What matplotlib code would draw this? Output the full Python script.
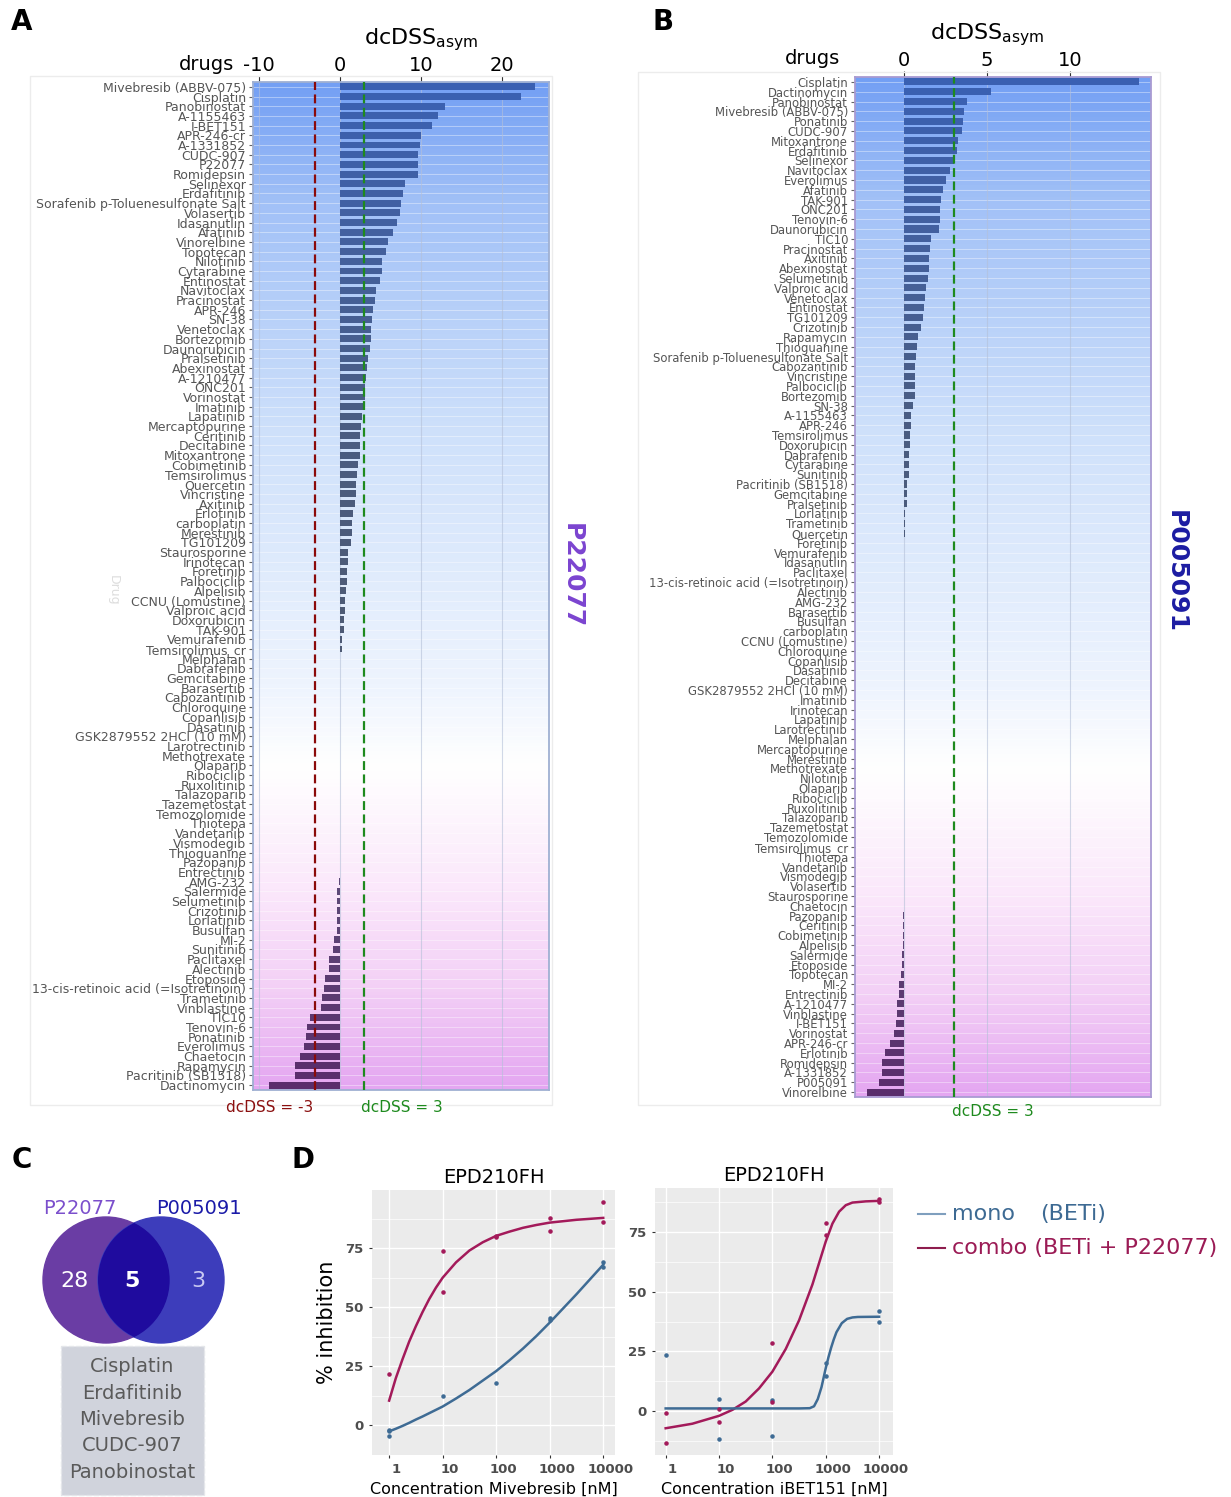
import numpy as np
import matplotlib
matplotlib.use("Agg")
import matplotlib.pyplot as plt
from matplotlib.colors import LinearSegmentedColormap
from matplotlib.patches import Circle, Rectangle
from matplotlib.lines import Line2D
from matplotlib.transforms import ScaledTranslation

# Panel A: P22077, dcDSS_asym per drug (top to bottom)
drugs_a = ["Mivebresib (ABBV-075)", "Cisplatin", "Panobinostat", "A-1155463", "I-BET151",
           "APR-246-cr", "A-1331852", "CUDC-907", "P22077", "Romidepsin", "Selinexor",
           "Erdafitinib", "Sorafenib p-Toluenesulfonate Salt", "Volasertib", "Idasanutlin",
           "Afatinib", "Vinorelbine", "Topotecan", "Nilotinib", "Cytarabine", "Entinostat",
           "Navitoclax", "Pracinostat", "APR-246", "SN-38", "Venetoclax", "Bortezomib",
           "Daunorubicin", "Pralsetinib", "Abexinostat", "A-1210477", "ONC201", "Vorinostat",
           "Imatinib", "Lapatinib", "Mercaptopurine", "Ceritinib", "Decitabine", "Mitoxantrone",
           "Cobimetinib", "Temsirolimus", "Quercetin", "Vincristine", "Axitinib", "Erlotinib",
           "carboplatin", "Merestinib", "TG101209", "Staurosporine", "Irinotecan", "Foretinib",
           "Palbociclib", "Alpelisib", "CCNU (Lomustine)", "Valproic acid", "Doxorubicin",
           "TAK-901", "Vemurafenib", "Temsirolimus_cr", "Melphalan", "Dabrafenib", "Gemcitabine",
           "Barasertib", "Cabozantinib", "Chloroquine", "Copanlisib", "Dasatinib",
           "GSK2879552 2HCl (10 mM)", "Larotrectinib", "Methotrexate", "Olaparib", "Ribociclib",
           "Ruxolitinib", "Talazoparib", "Tazemetostat", "Temozolomide", "Thiotepa", "Vandetanib",
           "Vismodegib", "Thioguanine", "Pazopanib", "Entrectinib", "AMG-232", "Salermide",
           "Selumetinib", "Crizotinib", "Lorlatinib", "Busulfan", "MI-2", "Sunitinib", "Paclitaxel",
           "Alectinib", "Etoposide", "13-cis-retinoic acid (=Isotretinoin)", "Trametinib",
           "Vinblastine", "TIC10", "Tenovin-6", "Ponatinib", "Everolimus", "Chaetocin", "Rapamycin",
           "Pacritinib (SB1518)", "Dactinomycin"]
vals_a = [24.1, 22.3, 13.0, 12.1, 11.4, 10.0, 9.9, 9.7, 9.6, 9.6, 8.0, 7.8, 7.6, 7.4, 7.1,
          6.6, 5.9, 5.7, 5.2, 5.2, 4.9, 4.5, 4.3, 4.1, 4.0, 3.8, 3.8, 3.7, 3.5, 3.4, 3.2, 3.1, 3.1,
          2.85, 2.7, 2.65, 2.55, 2.5, 2.45, 2.3, 2.1, 2.0, 1.97, 1.93, 1.68, 1.5, 1.47, 1.38,
          1.05, 1.05, 0.88, 0.84, 0.8, 0.67, 0.63, 0.55, 0.46, 0.25, 0.25, 0.08, 0, 0,
          0, 0, 0, 0, 0, 0, 0, 0, 0, 0, 0, 0, 0, 0, 0, 0,
          0, 0, 0, -0.03, -0.06, -0.3, -0.3, -0.3, -0.3, -0.3, -0.67, -0.84, -1.3,
          -1.34, -1.85, -2.0, -2.2, -2.26, -3.65, -4.07, -4.15, -4.44, -4.9, -5.5, -5.5, -8.7]

# Panel B: P005091
drugs_b = ["Cisplatin", "Dactinomycin", "Panobinostat", "Mivebresib (ABBV-075)", "Ponatinib",
           "CUDC-907", "Mitoxantrone", "Erdafitinib", "Selinexor", "Navitoclax", "Everolimus",
           "Afatinib", "TAK-901", "ONC201", "Tenovin-6", "Daunorubicin", "TIC10", "Pracinostat",
           "Axitinib", "Abexinostat", "Selumetinib", "Valproic acid", "Venetoclax", "Entinostat",
           "TG101209", "Crizotinib", "Rapamycin", "Thioguanine", "Sorafenib p-Toluenesulfonate Salt",
           "Cabozantinib", "Vincristine", "Palbociclib", "Bortezomib", "SN-38", "A-1155463",
           "APR-246", "Temsirolimus", "Doxorubicin", "Dabrafenib", "Cytarabine", "Sunitinib",
           "Pacritinib (SB1518)", "Gemcitabine", "Pralsetinib", "Lorlatinib", "Trametinib",
           "Quercetin", "Foretinib", "Vemurafenib", "Idasanutlin", "Paclitaxel",
           "13-cis-retinoic acid (=Isotretinoin)", "Alectinib", "AMG-232", "Barasertib", "Busulfan",
           "carboplatin", "CCNU (Lomustine)", "Chloroquine", "Copanlisib", "Dasatinib", "Decitabine",
           "GSK2879552 2HCl (10 mM)", "Imatinib", "Irinotecan", "Lapatinib", "Larotrectinib",
           "Melphalan", "Mercaptopurine", "Merestinib", "Methotrexate", "Nilotinib", "Olaparib",
           "Ribociclib", "Ruxolitinib", "Talazoparib", "Tazemetostat", "Temozolomide",
           "Temsirolimus_cr", "Thiotepa", "Vandetanib", "Vismodegib", "Volasertib", "Staurosporine",
           "Chaetocin", "Pazopanib", "Ceritinib", "Cobimetinib", "Alpelisib", "Salermide", "Etoposide",
           "Topotecan", "MI-2", "Entrectinib", "A-1210477", "Vinblastine", "I-BET151", "Vorinostat",
           "APR-246-cr", "Erlotinib", "Romidepsin", "A-1331852", "P005091", "Vinorelbine"]
vals_b = [14.1, 5.2, 3.8, 3.63, 3.53, 3.47, 3.27, 3.16, 2.98, 2.76, 2.55, 2.35, 2.22, 2.18,
          2.16, 2.12, 1.61, 1.57, 1.53, 1.49, 1.43, 1.29, 1.27, 1.22, 1.16, 1.04, 0.82, 0.78,
          0.73, 0.63, 0.63, 0.63, 0.63, 0.55, 0.41, 0.41, 0.37, 0.33, 0.27, 0.27, 0.27, 0.16,
          0.16, 0.16, 0.08, 0.08, 0.08, 0.02, 0.02, 0.01, 0.01, 0, 0, 0, 0, 0, 0, 0, 0, 0, 0,
          0, 0, 0, 0, 0, 0, 0, 0, 0, 0, 0, 0, 0, 0, 0, 0, 0, 0, 0, 0, 0, 0,
          -0.02, -0.03, -0.05, -0.06, -0.08, -0.08, -0.1, -0.12, -0.16, -0.31, -0.31, -0.41,
          -0.45, -0.49, -0.61, -0.86, -1.16, -1.33, -1.33, -1.51, -2.24]

# Panel C
venn_counts = ["28", "5", "3"]
shared_drugs = ["Cisplatin", "Erdafitinib", "Mivebresib", "CUDC-907", "Panobinostat"]

# Panel D: dose response, log10 concentration [nM]
conc = [1, 10, 100, 1000, 10000]
mive_mono_x = [1, 1, 1, 10, 100, 1000, 1000, 10000, 10000]
mive_mono_y = [-1.8, -2.3, -4.5, 12.5, 18.0, 45.3, 44.6, 69.3, 67.1]
mive_combo_x = [1, 10, 10, 100, 100, 1000, 1000, 10000, 10000]
mive_combo_y = [21.8, 74.0, 56.6, 80.2, 79.6, 87.8, 82.4, 94.6, 86.2]
mive_fit_logc = [0, 0.125, 0.25, 0.375, 0.5, 0.625, 0.75, 0.875, 1.0, 1.25, 1.5, 1.75, 2.0,
                 2.25, 2.5, 2.75, 3.0, 3.5, 4.0]
mive_fit_combo = [10.5, 20, 28, 35.5, 42, 48, 53.5, 58.3, 62.5, 69, 74, 77.5, 80.2, 82,
                  83.6, 84.8, 85.8, 87, 87.8]
mive_fit_mono = [-2.5, -1.4, -0.2, 1.1, 2.5, 3.8, 5.2, 6.6, 8, 11.4, 15, 19, 23, 27.6,
                 32.5, 37.8, 43.5, 55.5, 68]

ibet_mono_x = [1, 10, 10, 100, 100, 1000, 1000, 10000, 10000]
ibet_mono_y = [23.3, 4.9, -11.8, 4.5, -10.4, 20.3, 14.8, 41.9, 37.2]
ibet_combo_x = [1, 1, 10, 10, 100, 100, 1000, 1000, 10000, 10000]
ibet_combo_y = [-0.8, -13.5, 0.8, -4.7, 28.5, 3.7, 78.8, 73.9, 88.7, 87.4]
ibet_fit_logc = [0, 0.5, 1.0, 1.25, 1.5, 1.75, 2.0, 2.25, 2.5, 2.65, 2.75, 2.875, 3.0,
                 3.125, 3.25, 3.375, 3.5, 3.75, 4.0]
ibet_fit_combo = [-7.2, -5.3, -2.0, 0.5, 4.0, 9.5, 16.5, 26, 38, 47, 53, 62, 71, 78.5,
                  83.5, 86.2, 87.3, 87.8, 88]
ibet_mono_logc = [0, 1.0, 2.0, 2.5, 2.7, 2.78, 2.85, 2.92, 3.0, 3.05, 3.1, 3.15, 3.2, 3.3,
                  3.4, 3.5, 3.6, 4.0]
ibet_fit_mono = [1.1, 1.1, 1.1, 1.1, 1.2, 2.0, 5.0, 10.0, 18.0, 22.5, 26.5, 30.0, 33.0,
                 36.8, 38.6, 39.2, 39.4, 39.5]

W, H = 1231, 1497
fig = plt.figure(figsize=(W / 100, H / 100), dpi=100)


def fx(x):
    return x / W


def fy(y):
    return 1 - y / H


def rect(x0, y0, x1, y1):
    return [fx(x0), fy(y1), fx(x1) - fx(x0), fy(y0) - fy(y1)]


bg_cmap = LinearSegmentedColormap.from_list("bg", [
    (0.0, "#739ff4"), (0.12, "#a2c1f7"), (0.35, "#cfe1fb"), (0.6, "#eef4fe"),
    (0.68, "#ffffff"), (0.8, "#fbe8fb"), (0.9, "#f3d0f6"), (1.0, "#e4a6f1")])
bar_cmap = LinearSegmentedColormap.from_list("bars", [
    (0.0, "#3a60b2"), (0.15, "#43609e"), (0.35, "#4a5c80"), (0.6, "#4f5a72"),
    (0.8, "#5e4a78"), (1.0, "#5a2d6c")])


def bar_panel(box, drugs, vals, xlim, xticks, lines, fs, edge):
    ax = fig.add_axes(box)
    n = len(drugs)
    ypos = np.arange(n)
    grad = np.linspace(0, 1, 256).reshape(-1, 1)
    ax.imshow(grad, cmap=bg_cmap, aspect="auto", extent=(0, 1, 0, 1), origin="upper",
              transform=ax.transAxes, zorder=0)
    for y in ypos:
        ax.axhline(y, color="white", lw=0.6, alpha=0.45, zorder=1)
    for x in xticks:
        ax.axvline(x, color="#b4c0d8", lw=0.8, alpha=0.6, zorder=1)
    ax.barh(ypos, vals, height=0.72, color=bar_cmap(ypos / (n - 1)), zorder=3)
    for x, c in lines:
        ax.axvline(x, color=c, lw=1.6, ls=(0, (4, 2)), zorder=4)
    ax.set_xlim(*xlim)
    ax.set_ylim(n - 0.5, -0.5)
    ax.xaxis.tick_top()
    ax.set_xticks(xticks)
    ax.set_xticklabels([str(t) for t in xticks])
    ax.tick_params(axis="x", labelsize=14, length=4, pad=1, color="#333333")
    ax.set_yticks(ypos)
    ax.set_yticklabels(drugs, fontsize=fs, color="#555555")
    ax.tick_params(axis="y", length=3, pad=2, color="#666666")
    for s in ax.spines.values():
        s.set_color(edge)
        s.set_linewidth(1.3)
    return ax


# faint outer boxes
fig.add_artist(Rectangle((fx(30), fy(1105)), fx(552) - fx(30), fy(76) - fy(1105),
                         fill=False, ec="#ececec", lw=1, transform=fig.transFigure))
fig.add_artist(Rectangle((fx(638), fy(1105)), fx(1160) - fx(638), fy(72) - fy(1105),
                         fill=False, ec="#ececec", lw=1, transform=fig.transFigure))

bar_panel(rect(253, 82, 549, 1090), drugs_a, vals_a, (-10.7, 25.8), [-10, 0, 10, 20],
          [(-3, "#8b0a0a"), (3, "#1e8a1e")], 9.0, "#9fb0d2")
bar_panel(rect(855, 77, 1151, 1097), drugs_b, vals_b, (-2.95, 14.85), [0, 5, 10],
          [(3, "#1e8a1e")], 8.4, "#a99bd2")

# panel A/B annotations
fig.text(fx(421), fy(40), r"$\mathregular{dcDSS_{asym}}$", fontsize=16, ha="center", va="center")
fig.text(fx(206), fy(64), "drugs", fontsize=14, ha="center", va="center")
fig.text(fx(987), fy(35), r"$\mathregular{dcDSS_{asym}}$", fontsize=16, ha="center", va="center")
fig.text(fx(813), fy(58), "drugs", fontsize=14, ha="center", va="center")
fig.text(fx(270), fy(1107), "dcDSS = -3", fontsize=11, color="#8b1010", ha="center", va="center")
fig.text(fx(402), fy(1107), "dcDSS = 3", fontsize=11, color="#1e8a1e", ha="center", va="center")
fig.text(fx(993), fy(1112), "dcDSS = 3", fontsize=11, color="#1e8a1e", ha="center", va="center")
fig.text(fx(113), fy(590), "Drug", fontsize=9, color="#dddddd", rotation=-90, ha="center", va="center")
fig.text(fx(572), fy(576), "P22077", fontsize=18, fontweight="bold", color="#7b44d0",
         rotation=-90, ha="center", va="center")
fig.text(fx(1176), fy(572), "P005091", fontsize=18, fontweight="bold", color="#1c1ca2",
         rotation=-90, ha="center", va="center")

for lbl, x, y in [("A", 22, 22), ("B", 663, 22), ("C", 22, 1160), ("D", 303, 1160)]:
    fig.text(fx(x), fy(y), lbl, fontsize=20, fontweight="bold", ha="center", va="center")

# Panel C: Venn
vax = fig.add_axes([0, 0, 1, 1], zorder=-1)
vax.set_xlim(0, W)
vax.set_ylim(H, 0)
vax.set_aspect("equal")
vax.axis("off")
left_c = Circle((106, 1280), 63, color="#6a3da4", zorder=1)
right_c = Circle((161, 1280), 63, color="#3d3dbb", zorder=1)
vax.add_patch(left_c)
vax.add_patch(right_c)
overlap = Circle((106, 1280), 63, color="#1f0b9e", zorder=2)
vax.add_patch(overlap)
overlap.set_clip_path(right_c)
vax.text(80, 1208, "P22077", fontsize=14, color="#7b4fcc", ha="center", va="center")
vax.text(199, 1208, "P005091", fontsize=14, color="#1a1aa8", ha="center", va="center")
vax.text(75, 1281, venn_counts[0], fontsize=16, color="white", ha="center", va="center", zorder=3)
vax.text(132, 1281, venn_counts[1], fontsize=16, color="white", fontweight="bold",
         ha="center", va="center", zorder=3)
vax.text(198, 1281, venn_counts[2], fontsize=16, color="#c9c9f2", ha="center", va="center", zorder=3)
vax.add_patch(Rectangle((61, 1346), 143, 149, fc="#d0d3dc", ec="#e4e6ea", ls="--", lw=1))
for i, d in enumerate(shared_drugs):
    vax.text(132, 1367 + i * 26.3, d, fontsize=14, color="#5a5a5a", ha="center", va="center")

# Panel D: dose response
c_mono = "#3e6b94"
c_combo = "#a31a5a"


def dose_panel(box, xlim, ylim, mono_x, mono_y, combo_x, combo_y,
               fit_mono_x, fit_mono, fit_combo_x, fit_combo, xlabel):
    ax = fig.add_axes(box)
    ax.set_facecolor("#ebebeb")
    ax.set_xscale("log")
    ax.set_xlim(*xlim)
    ax.set_ylim(*ylim)
    ax.set_xticks(conc)
    ax.set_xticklabels([str(c) for c in conc])
    ax.xaxis.set_minor_locator(matplotlib.ticker.NullLocator())
    ax.set_yticks([0, 25, 50, 75])
    ax.set_yticks([-12.5, 12.5, 37.5, 62.5, 87.5], minor=True)
    ax.grid(True, which="major", color="white", lw=1.0)
    ax.grid(True, which="minor", axis="y", color="white", lw=0.5)
    ax.set_axisbelow(True)
    for s in ax.spines.values():
        s.set_visible(False)
    ax.tick_params(which="both", length=2.5, color="#333333", labelsize=9.5, labelcolor="#4d4d4d")
    ax.tick_params(which="minor", length=0)
    for t in ax.get_xticklabels() + ax.get_yticklabels():
        t.set_fontweight("bold")
    for t in ax.get_xticklabels():
        t.set_transform(t.get_transform() + ScaledTranslation(5 / 72, 0, fig.dpi_scale_trans))
    ax.plot(10 ** np.array(fit_combo_x), fit_combo, color=c_combo, lw=1.8)
    ax.plot(10 ** np.array(fit_mono_x), fit_mono, color=c_mono, lw=1.8)
    ax.scatter(mono_x, mono_y, s=5, color=c_mono, zorder=3)
    ax.scatter(combo_x, combo_y, s=5, color=c_combo, zorder=3)
    ax.set_title("EPD210FH", fontsize=14, pad=5)
    ax.set_xlabel(xlabel, fontsize=11.5, labelpad=4)
    return ax


axl = dose_panel(rect(372, 1190, 615, 1455), (10 ** -0.32, 10 ** 4.22), (-9, 99.6),
                 mive_mono_x, mive_mono_y, mive_combo_x, mive_combo_y,
                 mive_fit_logc, mive_fit_mono, mive_fit_logc, mive_fit_combo,
                 "Concentration Mivebresib [nM]")
axl.set_ylabel("% inhibition", fontsize=15, labelpad=6)
dose_panel(rect(655, 1188, 893, 1455), (10 ** -0.2, 10 ** 4.26), (-18.4, 93.4),
           ibet_mono_x, ibet_mono_y, ibet_combo_x, ibet_combo_y,
           ibet_mono_logc, ibet_fit_mono, ibet_fit_logc, ibet_fit_combo,
           "Concentration iBET151 [nM]")

# legend
fig.add_artist(Line2D([fx(918), fx(945)], [fy(1214), fy(1214)], color="#7f9fbe", lw=1.5))
fig.add_artist(Line2D([fx(918), fx(945)], [fy(1248), fy(1248)], color="#8e1d4e", lw=1.5))
fig.text(fx(952), fy(1214), "mono", fontsize=16, color="#3d6a93", va="center")
fig.text(fx(1040), fy(1214), "(BETi)", fontsize=16, color="#3d6a93", va="center")
fig.text(fx(952), fy(1248), "combo (BETi + P22077)", fontsize=16, color="#9b1b55", va="center")

fig.savefig("out.png", dpi=100)
